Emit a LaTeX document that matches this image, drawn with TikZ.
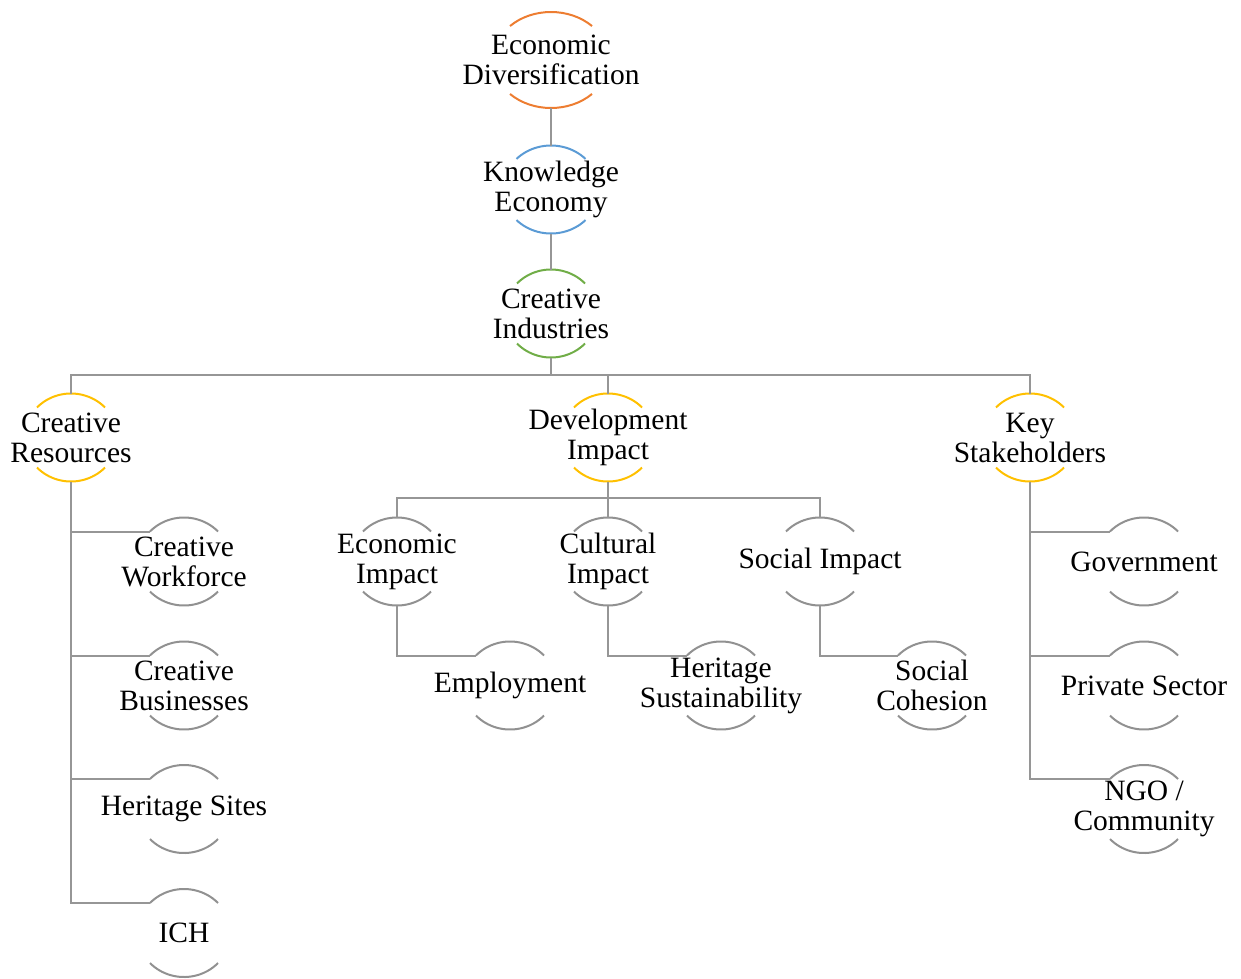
\documentclass[tikz,border=0pt]{standalone}
\usepackage{fontspec}
\setmainfont{Liberation Serif}
\usetikzlibrary{calc}
\definecolor{cOrange}{RGB}{237,125,49}
\definecolor{cBlue}{RGB}{91,155,213}
\definecolor{cGreen}{RGB}{112,173,71}
\definecolor{cYellow}{RGB}{255,192,0}
\definecolor{cGray}{RGB}{145,145,145}
\definecolor{cLine}{RGB}{150,150,150}
\newcommand\mknode[8]{%
  \node[txt] (#1) at (#2,#3) {#4};
  \pgfmathsetmacro\mkdx{#6*cos(#8)}%
  \pgfmathsetmacro\mkdy{#7*sin(#8)}%
  \coordinate (#1-tl) at ({#2-\mkdx},{#3-\mkdy});
  \coordinate (#1-bl) at ({#2-\mkdx},{#3+\mkdy});
  \coordinate (#1-t) at (#2,{#3-#7});
  \coordinate (#1-b) at (#2,{#3+#7});
  \draw[arcline,#5] (#1-tl) arc[start angle={180-#8}, end angle={#8}, x radius=#6pt, y radius=#7pt];
  \draw[arcline,#5] (#1-bl) arc[start angle={180+#8}, end angle={360-#8}, x radius=#6pt, y radius=#7pt];
}
\begin{document}
\begin{tikzpicture}[x=1pt,y=-1pt,
  txt/.style={align=center,inner sep=0pt,font=\fontsize{29.5}{30}\selectfont},
  arcline/.style={line width=2pt},
  conn/.style={draw=cLine,line width=2pt}]
\useasboundingbox (0,0) rectangle (1241,978);
% nodes
\mknode{ED}{551}{60}{Economic\\Diversification}{cOrange}{58}{48}{45}
\mknode{KE}{551}{189.5}{Knowledge\\Economy}{cBlue}{48}{44}{44}
\mknode{CI}{551}{313.5}{Creative\\Industries}{cGreen}{46.5}{44}{43}
\mknode{CR}{71}{437.5}{Creative\\Resources}{cYellow}{46.5}{44}{43}
\mknode{DI}{608}{437.5}{Development\\Impact}{cYellow}{46.5}{44}{43}
\mknode{KS}{1030}{437.5}{Key\\Stakeholders}{cYellow}{46.5}{44}{43}
\mknode{CW}{184}{561.5}{Creative\\Workforce}{cGray}{46.5}{44}{43}
\mknode{CB}{184}{685.5}{Creative\\Businesses}{cGray}{46.5}{44}{43}
\mknode{HSi}{184}{809}{Heritage Sites}{cGray}{46.5}{44}{43}
\mknode{ICH}{184}{933}{ICH}{cGray}{46.5}{44}{43}
\mknode{EI}{397}{561.5}{Economic\\Impact}{cGray}{46.5}{44}{43}
\mknode{CuI}{608}{561.5}{Cultural\\Impact}{cGray}{46.5}{44}{43}
\mknode{SI}{820}{561.5}{Social Impact}{cGray}{46.5}{44}{43}
\mknode{EM}{510}{685.5}{Employment}{cGray}{46.5}{44}{43}
\mknode{HSu}{721}{685.5}{Heritage\\Sustainability}{cGray}{46.5}{44}{43}
\mknode{SC}{932}{685.5}{Social\\Cohesion}{cGray}{46.5}{44}{43}
\mknode{GO}{1144}{561.5}{Government}{cGray}{46.5}{44}{43}
\mknode{PS}{1144}{685.5}{Private Sector}{cGray}{46.5}{44}{43}
\mknode{NGO}{1144}{809}{NGO /\\Community}{cGray}{46.5}{44}{43}
% connectors
\coordinate (bus1) at (551,375);
\coordinate (bus2) at (608,498);
\draw[conn] (ED-b) -- (KE-t);
\draw[conn] (KE-b) -- (CI-t);
\draw[conn] (CI-b) -- (bus1);
\draw[conn] (CR-t) -- (CR-t |- bus1) -- (KS-t |- bus1) -- (KS-t);
\draw[conn] (DI-t) -- (DI-t |- bus1);
\draw[conn] (DI-b) -- (bus2);
\draw[conn] (EI-t) -- (EI-t |- bus2) -- (SI-t |- bus2) -- (SI-t);
\draw[conn] (CuI-t) -- (CuI-t |- bus2);
\draw[conn] (CR-b) -- (CR-b |- ICH-tl) -- (ICH-tl);
\draw[conn] (CR-b |- CW-tl) -- (CW-tl);
\draw[conn] (CR-b |- CB-tl) -- (CB-tl);
\draw[conn] (CR-b |- HSi-tl) -- (HSi-tl);
\draw[conn] (EI-b) -- (EI-b |- EM-tl) -- (EM-tl);
\draw[conn] (CuI-b) -- (CuI-b |- HSu-tl) -- (HSu-tl);
\draw[conn] (SI-b) -- (SI-b |- SC-tl) -- (SC-tl);
\draw[conn] (KS-b) -- (KS-b |- NGO-tl) -- (NGO-tl);
\draw[conn] (KS-b |- GO-tl) -- (GO-tl);
\draw[conn] (KS-b |- PS-tl) -- (PS-tl);
\end{tikzpicture}
\end{document}
